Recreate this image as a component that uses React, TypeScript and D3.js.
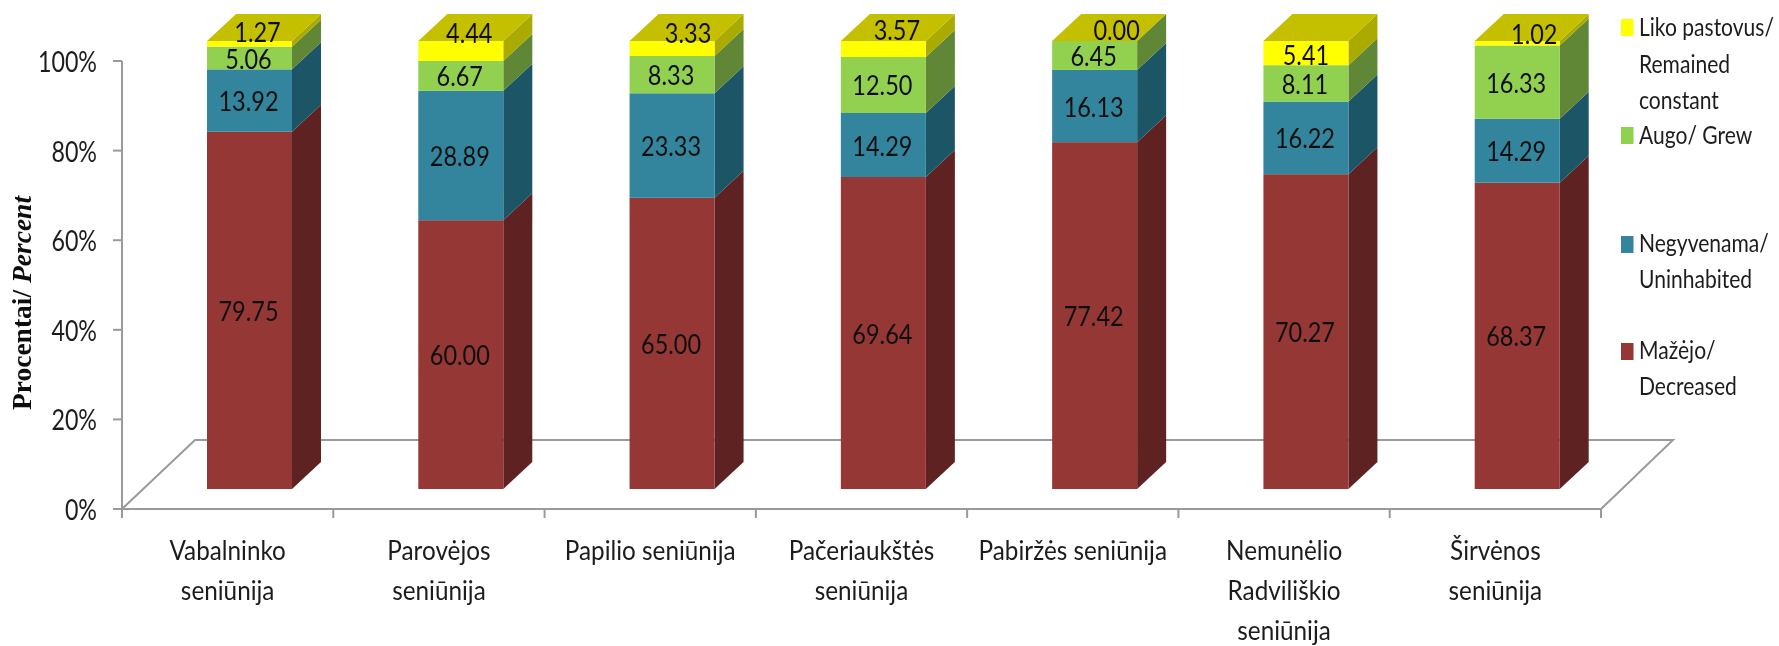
import React from "react";
import { scaleBand, scaleLinear, stack } from "d3";

const categories = [
  ["Vabalninko", "seniūnija"],
  ["Parovėjos", "seniūnija"],
  ["Papilio seniūnija"],
  ["Pačeriaukštės", "seniūnija"],
  ["Pabiržės seniūnija"],
  ["Nemunėlio", "Radviliškio", "seniūnija"],
  ["Širvėnos", "seniūnija"],
];
const decreased = [79.75, 60.0, 65.0, 69.64, 77.42, 70.27, 68.37];
const uninhabited = [13.92, 28.89, 23.33, 14.29, 16.13, 16.22, 14.29];
const grew = [5.06, 6.67, 8.33, 12.5, 6.45, 8.11, 16.33];
const constant = [1.27, 4.44, 3.33, 3.57, 0.0, 5.41, 1.02];
const yTicks = [0, 20, 40, 60, 80, 100];

const seriesValues = [decreased, uninhabited, grew, constant];
const seriesKeys = ["0", "1", "2", "3"];

const front = ["#953735", "#31859c", "#92d050", "#ffff00"];
const side = ["#5f2222", "#1f5566", "#5f8735", "#aaaa00"];
const topFace = "#c4c000";

const font = "Lato, sans-serif";
const axisColor = "#9a9a9a";
const textColor = "#1c1c1c";

// hand placed labels of the top segment, as in the original sheet
const topLabelNudge = [
  { dx: 8, y: 42 },
  { dx: 8.5, y: 43 },
  { dx: 16, y: 43 },
  { dx: 13.5, y: 40 },
  { dx: 22, y: 39.5 },
  { dx: 0, y: 65 },
  { dx: 17, y: 44 },
];

const DEPTH_X = 29;
const DEPTH_Y = 27;
const BAR_W = 85;

const legend = [
  { color: front[3], box: 19, lines: ["Liko pastovus/", "Remained", "constant"], base: [36, 73, 109] },
  { color: front[2], box: 127, lines: ["Augo/ Grew"], base: [144] },
  { color: front[1], box: 236, lines: ["Negyvenama/", "Uninhabited"], base: [252, 288] },
  { color: front[0], box: 343, lines: ["Mažėjo/", "Decreased"], base: [359, 395] },
];

// the original font is narrower than anything installed, so squeeze it
const Squeezed = ({ x, y, sx, size, anchor = "middle", fill = textColor, children }: any) => (
  <text
    transform={`translate(${x},${y}) scale(${sx},1)`}
    textAnchor={anchor}
    fontSize={size}
    fill={fill}
  >
    {children}
  </text>
);

export default function App() {
  const x = scaleBand<number>()
    .domain(categories.map((_, i) => i))
    .range([122, 1601]);
  const axisY = scaleLinear().domain([0, 100]).range([509, 61]);
  const barY = scaleLinear().domain([0, 100]).range([489, 41]);

  const rows = categories.map((_, i) => ({
    "0": decreased[i],
    "1": uninhabited[i],
    "2": grew[i],
    "3": constant[i],
  }));
  const layers = stack<any>().keys(seriesKeys)(rows);

  return (
    <svg
      width={1779}
      height={646}
      style={{ position: "absolute", left: 0, top: 0 }}
      fontFamily={font}
    >
      <defs>
        <filter id="soft" x="-5%" y="-5%" width="110%" height="110%">
          <feGaussianBlur stdDeviation="0.6" />
        </filter>
      </defs>
      <g filter="url(#soft)">
        {/* floor */}
        <path
          d={`M122,509L${122 + 73},${509 - 69}H1673L1601,509`}
          fill="none"
          stroke={axisColor}
          strokeWidth={2}
        />

        {/* y axis */}
        <line x1={122} x2={122} y1={axisY(100)} y2={axisY(0)} stroke={axisColor} strokeWidth={2} />
        {yTicks.map((t) => (
          <g key={t}>
            <line x1={113} x2={122} y1={axisY(t)} y2={axisY(t)} stroke={axisColor} strokeWidth={2} />
            <Squeezed x={97} y={axisY(t) + 11} sx={0.83} size={28} anchor="end">
              {t}%
            </Squeezed>
          </g>
        ))}

        {/* x axis */}
        <line x1={122} x2={1601} y1={509} y2={509} stroke={axisColor} strokeWidth={2} />
        {categories.map((_, i) => (
          <line key={i} x1={x(i)!} x2={x(i)!} y1={509} y2={518} stroke={axisColor} strokeWidth={2} />
        ))}
        <line x1={1601} x2={1601} y1={509} y2={518} stroke={axisColor} strokeWidth={2} />
        {categories.map((lines, i) =>
          lines.map((s, j) => (
            <Squeezed
              key={s + j}
              x={x(i)! + x.bandwidth() / 2}
              y={560 + j * 40}
              sx={0.9}
              size={27}
            >
              {s}
            </Squeezed>
          ))
        )}

        {/* bars */}
        {categories.map((_, i) => {
          const left = x(i)! + 85;
          const right = left + BAR_W;
          return (
            <g key={i}>
              {layers.map((layer, k) => {
                const y0 = barY(layer[i][0]);
                const y1 = barY(layer[i][1]);
                return (
                  <g key={k}>
                    <path
                      d={`M${right},${y0}L${right + DEPTH_X},${y0 - DEPTH_Y}V${y1 - DEPTH_Y}L${right},${y1}Z`}
                      fill={side[k]}
                    />
                    <rect x={left} y={y1} width={BAR_W} height={y0 - y1} fill={front[k]} />
                  </g>
                );
              })}
              <path
                d={`M${left},${barY(100)}L${left + DEPTH_X},${barY(100) - DEPTH_Y}H${right + DEPTH_X}L${right},${barY(100)}Z`}
                fill={topFace}
              />
            </g>
          );
        })}

        {/* value labels */}
        {categories.map((_, i) =>
          layers.map((layer, k) => {
            const cx = x(i)! + 85 + BAR_W / 2;
            const mid = barY((layer[i][0] + layer[i][1]) / 2) + 10.5;
            const nudge = topLabelNudge[i];
            return (
              <Squeezed
                key={`${i}-${k}`}
                x={k === 3 ? cx + nudge.dx : cx - 1}
                y={k === 3 ? nudge.y : mid}
                sx={0.87}
                size={27}
                fill="#111"
              >
                {seriesValues[k][i].toFixed(2)}
              </Squeezed>
            );
          })
        )}

        {/* y title */}
        <text
          transform="translate(31,303) rotate(-90)"
          textAnchor="middle"
          fontFamily="'Liberation Serif', serif"
          fontSize={27.5}
          fontWeight={700}
          fill="#111"
        >
          Procentai/ <tspan fontStyle="italic">Percent</tspan>
        </text>

        {/* legend */}
        {legend.map((l) => (
          <g key={l.color}>
            <rect x={1621} y={l.box} width={12.5} height={17} fill={l.color} />
            {l.lines.map((s, j) => (
              <Squeezed key={s} x={1639} y={l.base[j]} sx={0.81} size={26} anchor="start">
                {s}
              </Squeezed>
            ))}
          </g>
        ))}
      </g>
    </svg>
  );
}
